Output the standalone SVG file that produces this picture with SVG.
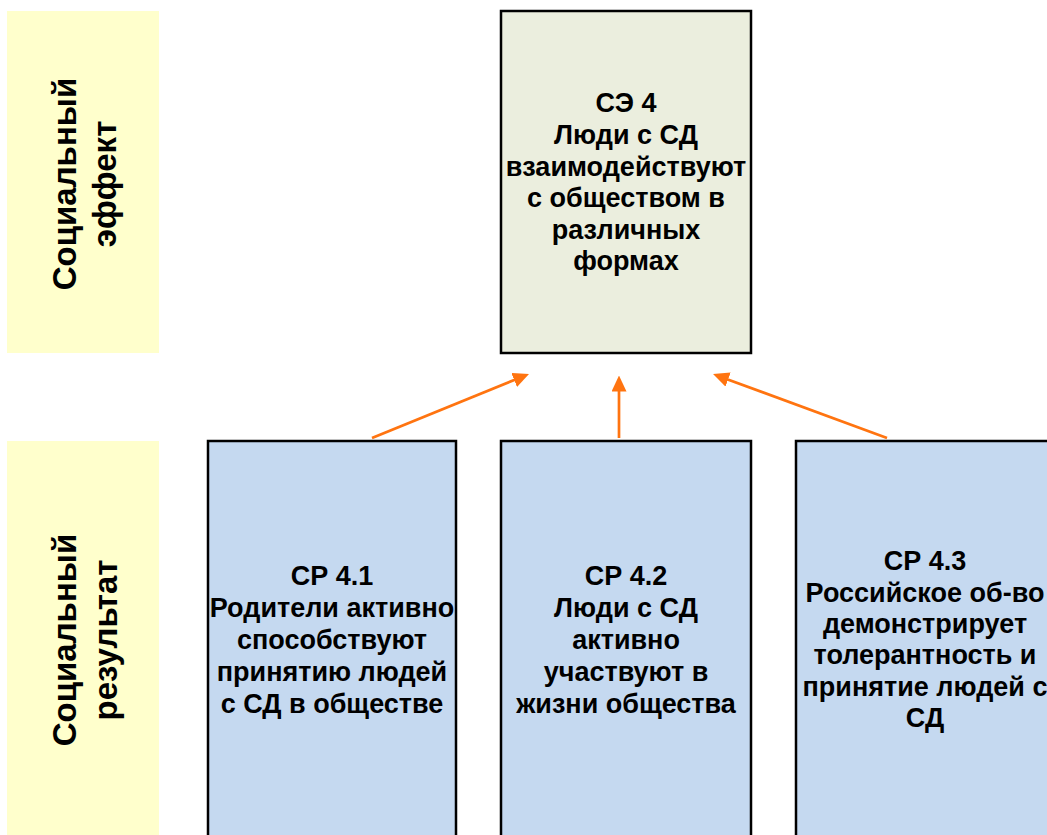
<svg xmlns="http://www.w3.org/2000/svg" width="1047" height="835" viewBox="0 0 1047 835">
<defs>
<marker id="ah" markerWidth="16" markerHeight="15" refX="12" refY="7.5" orient="auto" markerUnits="userSpaceOnUse" viewBox="0 0 16 15">
<path d="M0,0 L16,7.5 L0,15 Z" fill="#FF7410"/>
</marker>
<style>
.lab{fill:#FFFFCC;stroke:none}
.eff{fill:#EBEEDE;stroke:#000;stroke-width:2.5}
.res{fill:#C5D9F0;stroke:#000;stroke-width:2.5}
.t{font-family:"Liberation Sans",Arial,sans-serif;font-weight:bold;font-size:27px;fill:#000;text-anchor:middle}
.v{font-family:"Liberation Sans",Arial,sans-serif;font-weight:bold;font-size:33px;fill:#000;text-anchor:middle}
.c{stroke:#FF7410;stroke-width:2.7;fill:none;marker-end:url(#ah)}
</style>
</defs>
<rect width="1047" height="835" fill="#fff"/>
<g id="label-effect">
<rect class="lab" x="7" y="11" width="152" height="342"/>
<text class="v" transform="translate(76,184) rotate(-90)">Социальный</text>
<text class="v" transform="translate(116,184) rotate(-90)">эффект</text>
</g>
<g id="label-result">
<rect class="lab" x="7" y="441" width="152" height="400"/>
<text class="v" transform="translate(76,640) rotate(-90)">Социальный</text>
<text class="v" transform="translate(117,640) rotate(-90)">результат</text>
</g>
<g id="se4">
<rect class="eff" x="501" y="11" width="250" height="342"/>
<text class="t"><tspan x="626" y="112">СЭ 4</tspan><tspan x="626" y="144">Люди с СД</tspan><tspan x="626" y="176">взаимодействуют</tspan><tspan x="626" y="207">с обществом в</tspan><tspan x="626" y="239">различных</tspan><tspan x="626" y="270">формах</tspan></text>
</g>
<g id="sr41">
<rect class="res" x="208" y="441" width="248" height="410"/>
<text class="t"><tspan x="332" y="585">СР 4.1</tspan><tspan x="332" y="617">Родители активно</tspan><tspan x="332" y="649">способствуют</tspan><tspan x="332" y="681">принятию людей</tspan><tspan x="332" y="713">с СД в обществе</tspan></text>
</g>
<g id="sr42">
<rect class="res" x="501" y="441" width="250" height="410"/>
<text class="t"><tspan x="626" y="585">СР 4.2</tspan><tspan x="626" y="617">Люди с СД</tspan><tspan x="626" y="649">активно</tspan><tspan x="626" y="681">участвуют в</tspan><tspan x="626" y="713">жизни общества</tspan></text>
</g>
<g id="sr43">
<rect class="res" x="796" y="441" width="270" height="410"/>
<text class="t"><tspan x="925" y="570">СР 4.3</tspan><tspan x="925" y="602">Российское об-во</tspan><tspan x="925" y="633">демонстрирует</tspan><tspan x="925" y="664">толерантность и</tspan><tspan x="925" y="696">принятие людей с</tspan><tspan x="925" y="727">СД</tspan></text>
</g>
<g id="connectors">
<line class="c" x1="372" y1="438" x2="525.3" y2="375.5"/>
<line class="c" x1="619" y1="438" x2="619" y2="379.5"/>
<line class="c" x1="887" y1="438" x2="716.8" y2="375.4"/>
</g>
</svg>
